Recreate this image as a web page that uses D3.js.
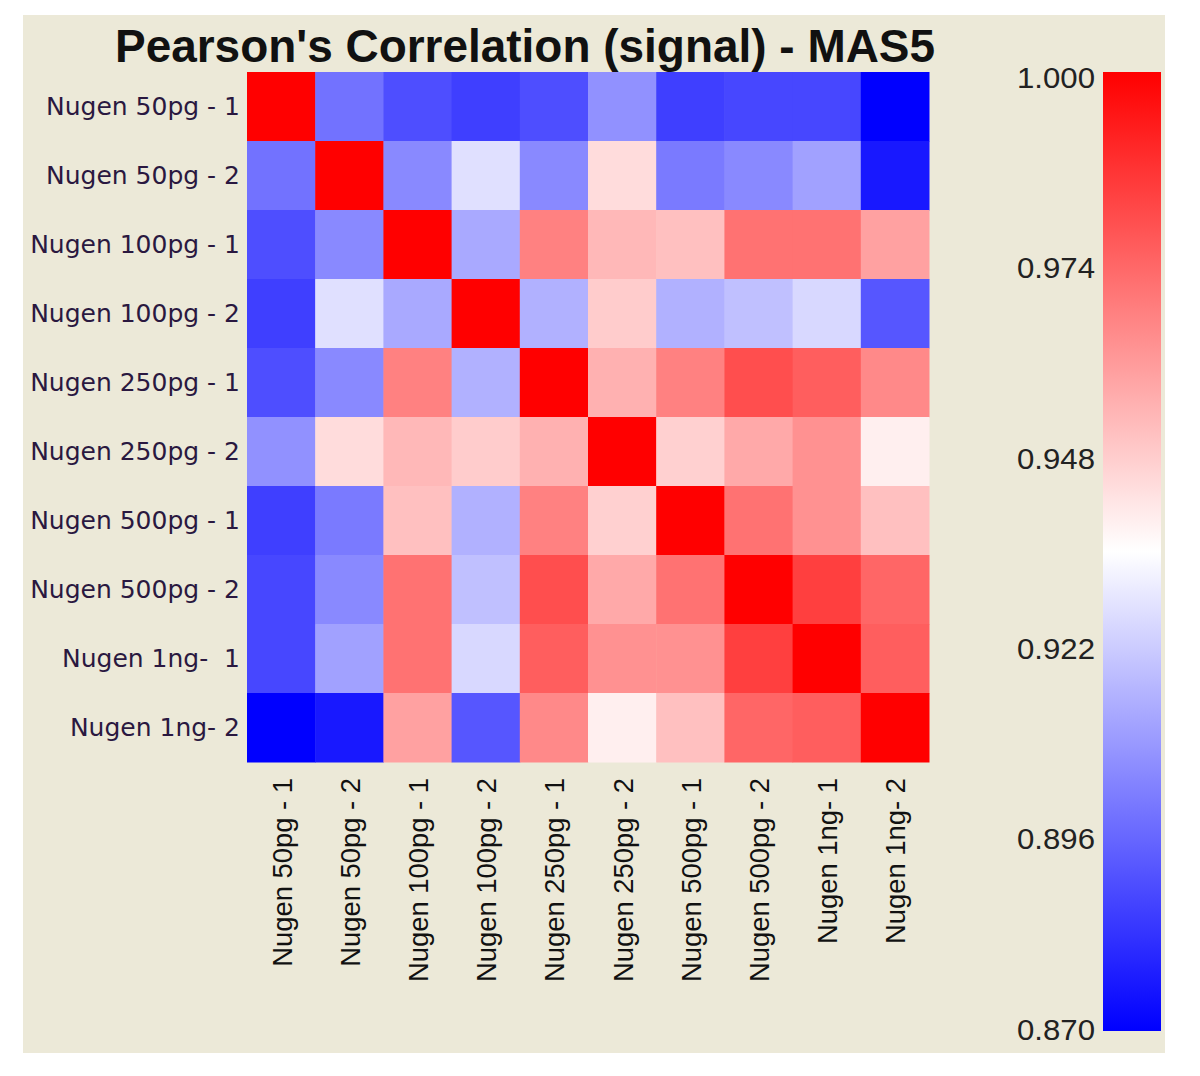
<!DOCTYPE html>
<html><head><meta charset="utf-8">
<script src="https://cdn.jsdelivr.net/npm/d3@7"></script>
<style>body{margin:0;background:#fff}</style>
</head><body>
<svg id="chart" width="1200" height="1076"></svg>
<script>
const rowLabels = ["Nugen 50pg - 1","Nugen 50pg - 2","Nugen 100pg - 1","Nugen 100pg - 2","Nugen 250pg - 1","Nugen 250pg - 2","Nugen 500pg - 1","Nugen 500pg - 2","Nugen 1ng-  1","Nugen 1ng- 2"];
const colLabels = ["Nugen 50pg - 1","Nugen 50pg - 2","Nugen 100pg - 1","Nugen 100pg - 2","Nugen 250pg - 1","Nugen 250pg - 2","Nugen 500pg - 1","Nugen 500pg - 2","Nugen 1ng- 1","Nugen 1ng- 2"];
const r0 = [1.000,0.899,0.890,0.886,0.890,0.907,0.886,0.888,0.888,0.870];
const r1 = [0.899,1.000,0.905,0.927,0.905,0.944,0.901,0.905,0.911,0.876];
const r2 = [0.890,0.905,1.000,0.913,0.967,0.953,0.951,0.971,0.971,0.959];
const r3 = [0.886,0.927,0.913,1.000,0.915,0.948,0.915,0.919,0.925,0.892];
const r4 = [0.890,0.905,0.967,0.915,1.000,0.955,0.967,0.980,0.976,0.965];
const r5 = [0.907,0.944,0.953,0.948,0.955,1.000,0.947,0.957,0.963,0.939];
const r6 = [0.886,0.901,0.951,0.915,0.967,0.947,1.000,0.971,0.963,0.951];
const r7 = [0.888,0.905,0.971,0.919,0.980,0.957,0.971,1.000,0.984,0.974];
const r8 = [0.888,0.911,0.971,0.925,0.976,0.963,0.963,0.984,1.000,0.976];
const r9 = [0.870,0.876,0.959,0.892,0.965,0.939,0.951,0.974,0.976,1.000];
const matrix = [r0,r1,r2,r3,r4,r5,r6,r7,r8,r9];
const legendTicks = [0.870,0.896,0.922,0.948,0.974,1.000];
const colorDomain = [0.870,0.935,1.000];
const title = "Pearson's Correlation (signal) - MAS5";

(function(){
const svg = d3.select("#chart");
svg.append("rect").attr("x",23).attr("y",15).attr("width",1142).attr("height",1038).attr("fill","#ECE9D8");

const color = d3.scaleLinear().domain(colorDomain).range(["#0000ff","#ffffff","#ff0000"]);
const hmLeft=247, hmTop=72, W=682, H=690;
const x = d3.scaleBand().domain(d3.range(10)).range([hmLeft,hmLeft+W]);
const y = d3.scaleBand().domain(d3.range(10)).range([hmTop,hmTop+H]);

const cells=[];
matrix.forEach((row,i)=>row.forEach((v,j)=>cells.push({i,j,v})));
svg.append("g").selectAll("rect").data(cells).join("rect")
  .attr("x",d=>x(d.j)).attr("y",d=>y(d.i))
  .attr("width",x.bandwidth()+0.5).attr("height",y.bandwidth()+0.5)
  .attr("fill",d=>color(d.v));

svg.append("g").selectAll("text").data(rowLabels).join("text")
  .attr("x",240).attr("y",(d,i)=>y(i)+y.bandwidth()/2)
  .attr("text-anchor","end").attr("dominant-baseline","central")
  .attr("font-family","DejaVu Sans").attr("font-size",25).attr("fill","#2a1840")
  .style("white-space","pre").text(d=>d);

svg.append("g").selectAll("text").data(colLabels).join("text")
  .attr("transform",(d,i)=>`translate(${x(i)+x.bandwidth()/2+1},778) rotate(-90)`)
  .attr("text-anchor","end").attr("dominant-baseline","central")
  .attr("font-family","Liberation Sans").attr("font-size",27.4).attr("fill","#111")
  .text(d=>d);

svg.append("text").attr("x",115).attr("y",62)
  .attr("textLength",820).attr("lengthAdjust","spacingAndGlyphs")
  .attr("font-family","Liberation Sans").attr("font-weight","bold").attr("font-size",47)
  .attr("fill","#111").text(title);

const cbX=1103, cbW=58, cbTop=72, cbBot=1031;
const ly = d3.scaleLinear().domain([0.870,1.000]).range([1030,78]);
const defs = svg.append("defs");
const grad = defs.append("linearGradient").attr("id","cb").attr("x1",0).attr("y1",1).attr("x2",0).attr("y2",0);
d3.range(0,1.0001,0.05).forEach(t=>{
  const v = 0.870 + t*0.130;
  grad.append("stop").attr("offset",t).attr("stop-color",color(v));
});
svg.append("rect").attr("x",cbX).attr("y",cbTop).attr("width",cbW).attr("height",cbBot-cbTop).attr("fill","url(#cb)");
const axis = d3.axisLeft(ly).tickValues(legendTicks).tickFormat(d3.format(".3f")).tickSize(0).tickPadding(8);
const ag = svg.append("g").attr("transform",`translate(${cbX},0)`).call(axis);
ag.select(".domain").remove();
ag.selectAll("text").attr("font-family","Liberation Sans").attr("font-size",29)
  .attr("textLength",78).attr("lengthAdjust","spacingAndGlyphs").attr("fill","#222");
})();
</script>
</body></html>
